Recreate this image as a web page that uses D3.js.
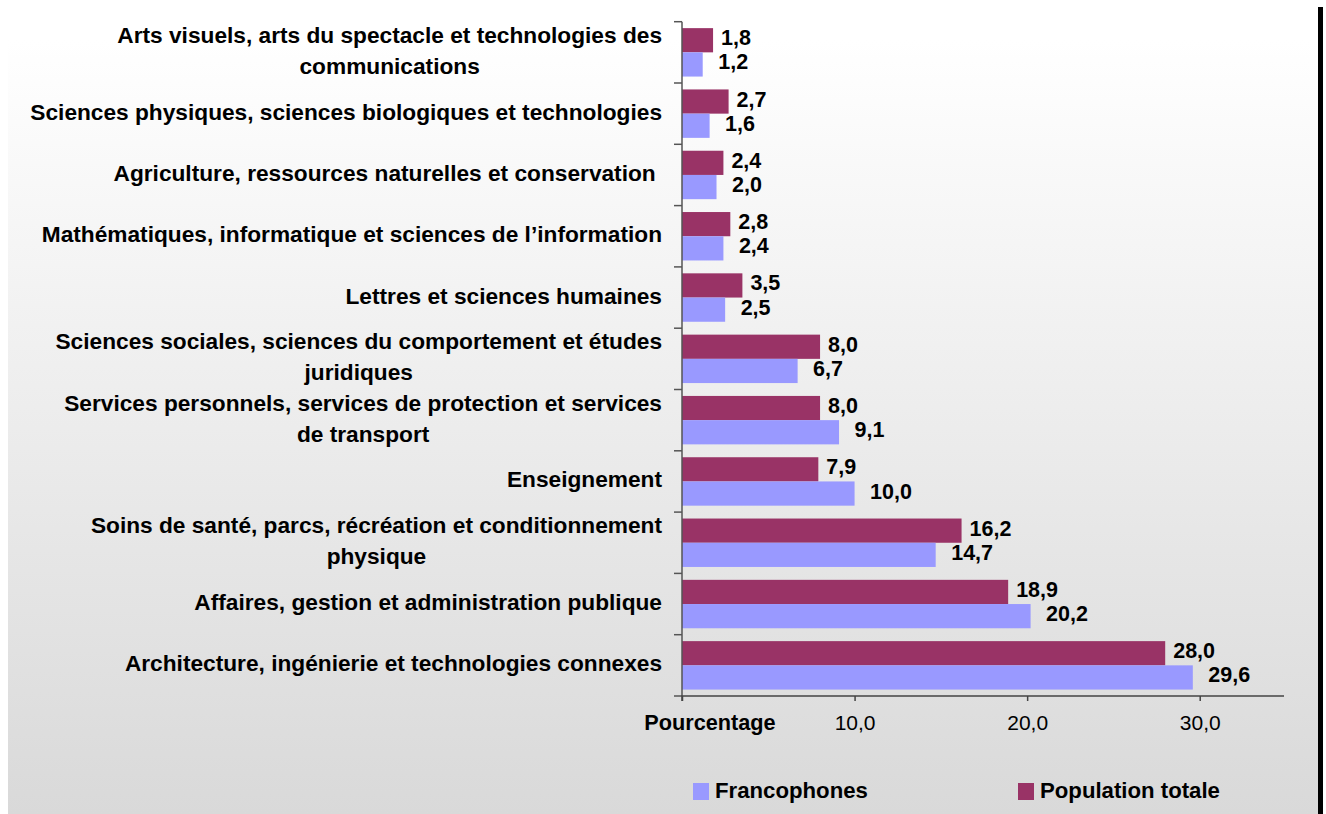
<!DOCTYPE html>
<html><head><meta charset="utf-8">
<script src="https://cdn.jsdelivr.net/npm/d3@7"></script>
<style>body{margin:0;background:#fff}svg{display:block}text{font-family:"Liberation Sans",Arial,sans-serif}</style>
</head><body>
<svg id="c" width="1326" height="814"></svg>
<script>
const categories = [
  ["Arts visuels, arts du spectacle et technologies des", "communications"],
  ["Sciences physiques, sciences biologiques et technologies"],
  ["Agriculture, ressources naturelles et conservation\u00a0"],
  ["Mathématiques, informatique et sciences de l’information"],
  ["Lettres et sciences humaines"],
  ["Sciences sociales, sciences du comportement et études", "juridiques"],
  ["Services personnels, services de protection et services", "de transport"],
  ["Enseignement"],
  ["Soins de santé, parcs, récréation et conditionnement", "physique"],
  ["Affaires, gestion et administration publique"],
  ["Architecture, ingénierie et technologies connexes"]
];
const populationTotale = [1.8, 2.7, 2.4, 2.8, 3.5, 8.0, 8.0, 7.9, 16.2, 18.9, 28.0];
const francophones     = [1.2, 1.6, 2.0, 2.4, 2.5, 6.7, 9.1, 10.0, 14.7, 20.2, 29.6];
const seriesNames = ["Francophones", "Population totale"];
const tickValues = [10, 20, 30];
const axisTitle = "Pourcentage";

const colors = {"Francophones": "#9999FF", "Population totale": "#993366"};
const fmt = v => d3.format(".1f")(v).replace(".", ",");

const svg = d3.select("#c");
const defs = svg.append("defs");
const grad = defs.append("linearGradient").attr("id","bg").attr("x1",0).attr("y1",0).attr("x2",0).attr("y2",1);
grad.append("stop").attr("offset","0%").attr("stop-color","#ffffff");
grad.append("stop").attr("offset","100%").attr("stop-color","#d9d9d9");

svg.append("rect").attr("x",0).attr("y",0).attr("width",1326).attr("height",814).attr("fill","#fff");
svg.append("rect").attr("x",8).attr("y",40).attr("width",1310).attr("height",774).attr("fill","url(#bg)");
svg.append("rect").attr("x",1318).attr("y",7).attr("width",5).attr("height",807).attr("fill","#000");

const x0 = 682, axisY = 696, topY = 21.7;
const x = d3.scaleLinear().domain([0, 35]).range([x0, 1286]);
const idx = d3.range(categories.length);
const y = d3.scaleBand().domain(idx).range([topY, axisY]).padding(0);
const bw = y.bandwidth();
const barH = bw * 0.395;
const off = (bw - 2 * barH) / 2;

const g = svg.append("g");

// bars
idx.forEach(i => {
  const yb = y(i) + off;
  g.append("rect").attr("x", x(0)).attr("y", yb).attr("width", x(populationTotale[i]) - x(0)).attr("height", barH)
    .attr("fill", colors["Population totale"]);
  g.append("rect").attr("x", x(0)).attr("y", yb + barH).attr("width", x(francophones[i]) - x(0)).attr("height", barH)
    .attr("fill", colors["Francophones"]);
  g.append("text").attr("x", x(populationTotale[i]) + 8).attr("y", yb + barH/2 + 5)
    .attr("font-size", "21.5px").attr("font-weight", "bold").attr("fill", "#000").text(fmt(populationTotale[i]));
  g.append("text").attr("x", x(francophones[i]) + 15.5).attr("y", yb + barH*1.5 + 5)
    .attr("font-size", "21.5px").attr("font-weight", "bold").attr("fill", "#000").text(fmt(francophones[i]));
});

// category labels
idx.forEach(i => {
  const lines = categories[i];
  const cy = y(i) + bw/2;
  const lh = 31;
  const t = g.append("text").attr("text-anchor","middle").attr("font-size","22.7px").attr("font-weight","bold")
    .attr("fill","#000").style("white-space","pre");
  lines.forEach((ln, k) => {
    t.append("tspan").attr("y", cy + (k - (lines.length-1)/2) * lh + 6).text(ln);
  });
  let maxW = 0;
  t.selectAll("tspan").each(function(){ maxW = Math.max(maxW, this.getComputedTextLength()); });
  t.selectAll("tspan").attr("x", 662 - maxW/2);
});

// y axis
const yAxisG = svg.append("g");
yAxisG.append("line").attr("x1", x0).attr("x2", x0).attr("y1", topY).attr("y2", axisY)
  .attr("stroke", "#555").attr("stroke-width", 1.5);
d3.range(categories.length + 1).forEach(k => {
  const yy = topY + k * bw;
  yAxisG.append("line").attr("x1", x0 - 8).attr("x2", x0).attr("y1", yy).attr("y2", yy)
    .attr("stroke", "#555").attr("stroke-width", 1.5);
});

// x axis
const xAxis = d3.axisBottom(x).tickValues([0].concat(tickValues)).tickSize(5).tickFormat(d => d === 0 ? "" : fmt(d));
const xg = svg.append("g").attr("transform", `translate(0,${axisY})`).call(xAxis);
xg.select(".domain").attr("stroke", "#444").attr("stroke-width", 1.5).attr("d", `M${x0},5V0H1284`);
xg.selectAll(".tick line").attr("stroke", "#444").attr("stroke-width", 1.5);
xg.selectAll(".tick text").attr("font-size", "21px").attr("font-family", "Liberation Sans, Arial, sans-serif")
  .attr("fill", "#000").attr("y", 0).attr("dy", "34px");
svg.append("text").attr("x", 710).attr("y", 730).attr("text-anchor","middle").attr("font-size","21.7px")
  .attr("font-weight","bold").attr("fill","#000").text(axisTitle);

// legend
const legendX = [693, 1018];
seriesNames.forEach((s, i) => {
  svg.append("rect").attr("x", legendX[i]).attr("y", 783).attr("width", 16).attr("height", 17).attr("fill", colors[s]);
  svg.append("text").attr("x", legendX[i] + 22).attr("y", 798).attr("font-size","22.2px").attr("font-weight","bold")
    .attr("fill","#000").text(s);
});
</script>
</body></html>
